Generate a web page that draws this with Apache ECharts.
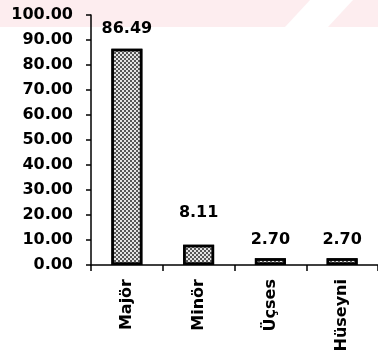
<!DOCTYPE html>
<html><head><meta charset="utf-8">
<script src="https://cdn.jsdelivr.net/npm/echarts@6/dist/echarts.min.js"></script>
<style>html,body{margin:0;padding:0;background:#fff}#c{width:378px;height:360px}</style>
</head><body><div id="c"></div>
<script>
const categories = ["Majör", "Minör", "Üçses", "Hüseyni"];
const values = [86.49, 8.11, 2.70, 2.70];
const yTicks = [0, 10, 20, 30, 40, 50, 60, 70, 80, 90, 100];

const labelDist = [12, 24, 10, 10];
const font = "DejaVu Sans";
const chart = echarts.init(document.getElementById('c'), null, {renderer: 'canvas'});
chart.setOption({
  animation: false,
  backgroundColor: '#fff',
  graphic: [
    {type: 'rect', shape: {x: 0, y: 0, width: 378, height: 27}, style: {fill: '#fdedef'}, z: -10},
    {type: 'polygon', shape: {points: [[310,0],[353,0],[328,27],[285,27]]}, style: {fill: '#ffffff'}, z: -9}
  ],
  grid: {left: 91, right: -2, top: 15, bottom: 95, containLabel: false},
  xAxis: {
    type: 'category', data: categories,
    axisLine: {lineStyle: {color: '#000', width: 1.5}},
    axisTick: {show: true, length: 6, lineStyle: {color: '#000', width: 1.5}},
    axisLabel: {rotate: 90, margin: 14, color: '#000', fontFamily: font, fontWeight: 'bold', fontSize: 16}
  },
  yAxis: {
    type: 'value', min: yTicks[0], max: yTicks[yTicks.length-1], interval: 10,
    splitLine: {show: false},
    axisLine: {show: true, lineStyle: {color: '#000', width: 1.5}},
    axisTick: {show: true, length: 5, lineStyle: {color: '#000', width: 1.5}},
    axisLabel: {margin: 18, color: '#000', fontFamily: font, fontWeight: 'bold', fontSize: 16,
      formatter: v => v.toFixed(2)}
  },
  series: [{
    type: 'bar', barWidth: 31,
    data: values.map((v, i) => ({value: v, label: {distance: labelDist[i]}})),
    itemStyle: {color: '#e4e4e4', borderColor: '#000', borderWidth: 2.5,
      decal: {symbol: 'rect', symbolSize: 1, dashArrayX: [[2, 2], [0, 2, 2, 0]], dashArrayY: [2, 0], color: 'rgba(40,40,40,0.75)', rotation: 0}},
    label: {show: true, position: 'top', color: '#000', fontFamily: font, fontWeight: 'bold', fontSize: 16,
      formatter: p => p.value.toFixed(2)}
  }]
});
</script></body></html>
